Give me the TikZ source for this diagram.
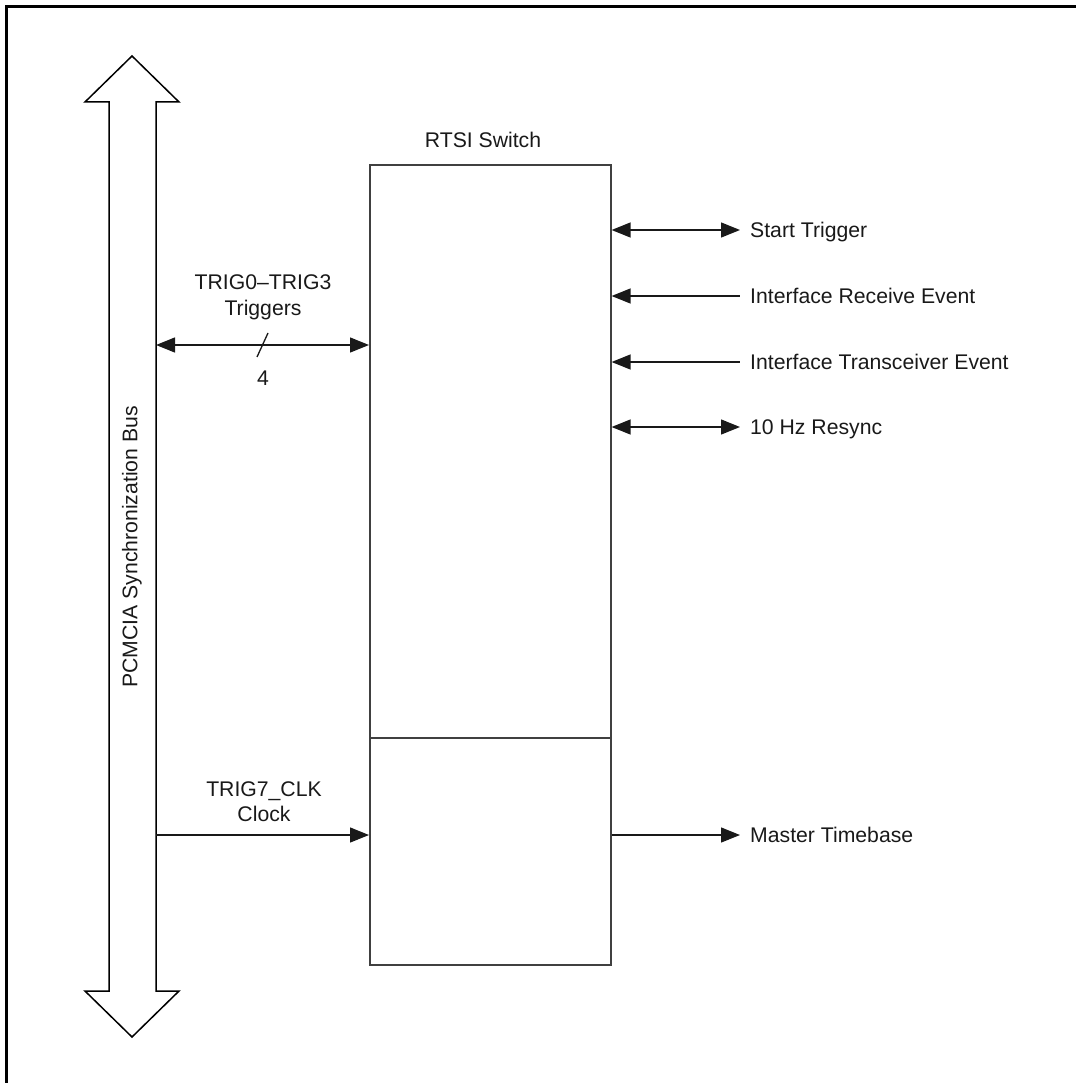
\documentclass[tikz,border=0pt]{standalone}
\usepackage{fontspec}
\setmainfont{Liberation Sans}
\usetikzlibrary{arrows.meta}
\begin{document}
\begin{tikzpicture}[x=1pt,y=-1pt,
  font=\fontsize{21.2}{26}\selectfont,
  tri/.tip={Triangle[length=19pt,width=15pt]},
  conn/.style={line width=1.3pt, draw=black!90},
  boxline/.style={line width=1.6pt, draw=black!75},
  lbl/.style={inner sep=0pt, anchor=base west, text=black!90},
  clbl/.style={inner sep=0pt, anchor=base, text=black!90}]
\useasboundingbox (0,0) rectangle (1076,1083);
% frame (top and left only)
\draw[line width=3pt] (6,1083) -- (6,7) -- (1076,7);
% bus double arrow
\draw[line width=1.5pt, line join=miter] (132,56) -- (179,102) -- (156,102) -- (156,991) -- (179,991) -- (132,1037) -- (85,991) -- (109,991) -- (109,102) -- (85,102) -- cycle;
\node[rotate=90, inner sep=0pt, text=black!90] (busl) at (132,547) {PCMCIA Synchronization Bus};
% RTSI switch box
\node[boxline, draw, minimum width=241pt, minimum height=800pt, inner sep=0pt, anchor=north west] (sw) at (369,164) {};
\coordinate (div) at (369,738);
\draw[boxline] (div) -- (div -| sw.east);
\node[clbl] (title) at (483,148) {RTSI Switch};
% left connections
\coordinate (busA) at (156,345);
\coordinate (busB) at (156,835);
\draw[conn, tri-tri] (busA) -- (busA -| sw.west);
\draw[conn, -tri] (busB) -- (busB -| sw.west);
\coordinate (s1) at (257,357);
\coordinate (s2) at (268,333);
\draw[conn] (s1) -- (s2);
\node[clbl] (trigA) at (263,289) {TRIG0--TRIG3};
\node[clbl] (trigB) at (263,315) {Triggers};
\node[clbl] (four) at (263,385) {4};
\node[clbl] (clkA) at (264,796) {TRIG7\_CLK};
\node[clbl] (clkB) at (264,821) {Clock};
% right connections
\coordinate (r1) at (740,230);
\coordinate (r2) at (740,296);
\coordinate (r3) at (740,362);
\coordinate (r4) at (740,427);
\coordinate (r5) at (740,835);
\draw[conn, tri-tri] (r1 -| sw.east) -- (r1);
\draw[conn, tri-] (r2 -| sw.east) -- (r2);
\draw[conn, tri-] (r3 -| sw.east) -- (r3);
\draw[conn, tri-tri] (r4 -| sw.east) -- (r4);
\draw[conn, -tri] (r5 -| sw.east) -- (r5);
\node[lbl] (l1) at (750,237) {Start Trigger};
\node[lbl] (l2) at (750,303) {Interface Receive Event};
\node[lbl] (l3) at (750,369) {Interface Transceiver Event};
\node[lbl] (l4) at (750,434) {10 Hz Resync};
\node[lbl] (l5) at (750,842) {Master Timebase};
\end{tikzpicture}
\end{document}
